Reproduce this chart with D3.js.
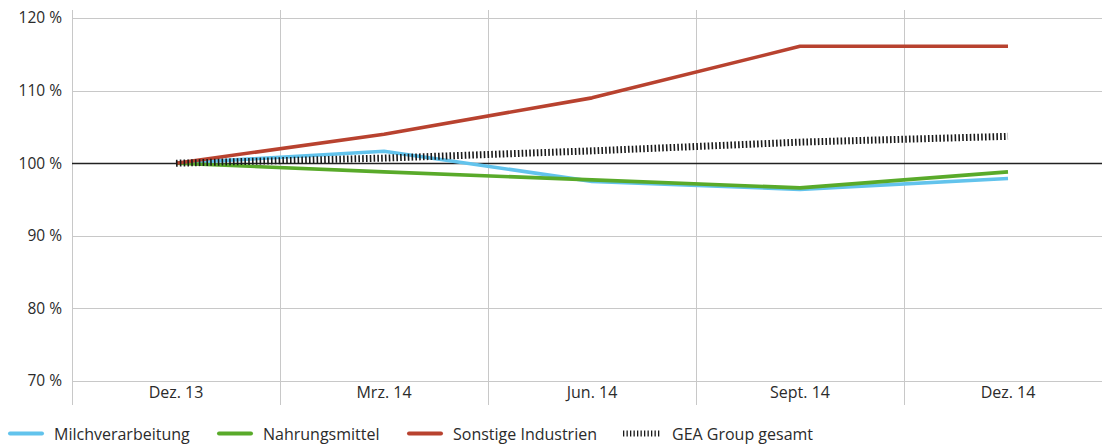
<!DOCTYPE html>
<html>
<head>
<meta charset="utf-8">
<script src="https://cdn.jsdelivr.net/npm/d3@7"></script>
<style>
  html, body { margin: 0; padding: 0; background: #fff; }
  svg { display: block; font-family: "Open Sans", "Noto Sans", sans-serif; }
</style>
</head>
<body>
<svg id="chart" width="1102" height="444"></svg>
<script>
// Quarter labels on the x axis
const quarters = ["Dez. 13", "Mrz. 14", "Jun. 14", "Sept. 14", "Dez. 14"];
// Y axis ticks (percent, indexed to Dez. 13 = 100 %)
const yTicks = [70, 80, 90, 100, 110, 120];

// Index values per segment
const milchverarbeitung = [100, 101.65, 97.5, 96.4, 97.9];
const nahrungsmittel    = [100, 98.8, 97.7, 96.6, 98.8];
const sonstigeIndustrien = [100, 104.0, 109.0, 116.1, 116.1];
const geaGesamt         = [100, 100.7, 101.7, 102.9, 103.7];

const seriesNames = ["Milchverarbeitung", "Nahrungsmittel", "Sonstige Industrien", "GEA Group gesamt"];
const seriesColors = ["#62c3ec", "#59aa2a", "#b8422f", "#1a1a1a"];

const series = [
  { name: seriesNames[0], values: milchverarbeitung, color: seriesColors[0], hatched: false },
  { name: seriesNames[1], values: nahrungsmittel, color: seriesColors[1], hatched: false },
  { name: seriesNames[2], values: sonstigeIndustrien, color: seriesColors[2], hatched: false },
  { name: seriesNames[3], values: geaGesamt, color: seriesColors[3], hatched: true }
];

const svg = d3.select("#chart");
const plotLeft = 72, bandW = 208;
const plotRight = plotLeft + bandW * quarters.length;
const plotTop = 18, plotBottom = 381;
const textColor = "#2b2b2b";

const x = d3.scaleBand().domain(quarters).range([plotLeft, plotRight]).paddingInner(0).paddingOuter(0);
const y = d3.scaleLinear().domain([70, 120]).range([plotBottom, plotTop]);

const grid = svg.append("g");

// horizontal gridlines
grid.selectAll("line.h").data(yTicks.filter(t => t !== 100)).enter().append("line")
  .attr("x1", plotLeft).attr("x2", 1102)
  .attr("y1", d => Math.round(y(d)) + 0.5).attr("y2", d => Math.round(y(d)) + 0.5)
  .attr("stroke", "#c8c8c8").attr("stroke-width", 1);

// vertical band separators, reaching down past the labels
const seps = quarters.slice(1).map(q => x(q));
grid.selectAll("line.v").data([plotLeft].concat(seps)).enter().append("line")
  .attr("x1", d => Math.round(d) + 0.5).attr("x2", d => Math.round(d) + 0.5)
  .attr("y1", 10).attr("y2", 405)
  .attr("stroke", "#c8c8c8").attr("stroke-width", 1);

// 100 % baseline
grid.append("line")
  .attr("x1", plotLeft).attr("x2", 1102)
  .attr("y1", Math.round(y(100)) + 0.5).attr("y2", Math.round(y(100)) + 0.5)
  .attr("stroke", "#222").attr("stroke-width", 1.3);

// y axis labels
const yAxis = d3.axisLeft(y).tickValues(yTicks).tickSize(0).tickPadding(10)
  .tickFormat(d => d + " %");
const yg = svg.append("g").attr("transform", `translate(${plotLeft},0)`).call(yAxis);
yg.select(".domain").remove();
yg.selectAll("text").attr("font-size", 15.5).attr("fill", textColor)
  .attr("font-family", "'Open Sans', 'Noto Sans', sans-serif");

// x axis labels
const xAxis = d3.axisBottom(x).tickSize(0).tickPadding(6);
const xg = svg.append("g").attr("transform", `translate(0,${plotBottom})`).call(xAxis);
xg.select(".domain").remove();
xg.selectAll("text").attr("font-size", 16).attr("fill", textColor)
  .attr("font-family", "'Open Sans', 'Noto Sans', sans-serif");

// lines
const line = d3.line()
  .x((d, i) => x(quarters[i]) + x.bandwidth() / 2)
  .y(d => y(d));

const lines = svg.append("g");
series.forEach(s => {
  const p = lines.append("path")
    .attr("d", line(s.values))
    .attr("fill", "none")
    .attr("stroke", s.color);
  if (s.hatched) {
    p.attr("stroke-width", 7).attr("stroke-dasharray", "1.6,2.2");
  } else {
    p.attr("stroke-width", 3.6).attr("stroke-linejoin", "round");
  }
});

// legend
const legendItems = [
  { s: series[0], x: 8 },
  { s: series[1], x: 217 },
  { s: series[2], x: 407 },
  { s: series[3], x: 623 }
];
const lg = svg.append("g");
legendItems.forEach(it => {
  const ly = 433.5;
  const l = lg.append("line")
    .attr("y1", ly).attr("y2", ly)
    .attr("stroke", it.s.color);
  if (it.s.hatched) {
    l.attr("stroke-width", 6).attr("stroke-dasharray", "1.3,2.2")
      .attr("x1", it.x).attr("x2", it.x + 37);
  } else {
    l.attr("stroke-width", 4).attr("stroke-linecap", "round")
      .attr("x1", it.x + 2).attr("x2", it.x + 34);
  }
  lg.append("text")
    .attr("x", it.x + (it.s.hatched ? 49 : 46)).attr("y", ly + 6)
    .attr("font-size", 16).attr("fill", textColor)
    .text(it.s.name);
});
</script>
</body>
</html>
